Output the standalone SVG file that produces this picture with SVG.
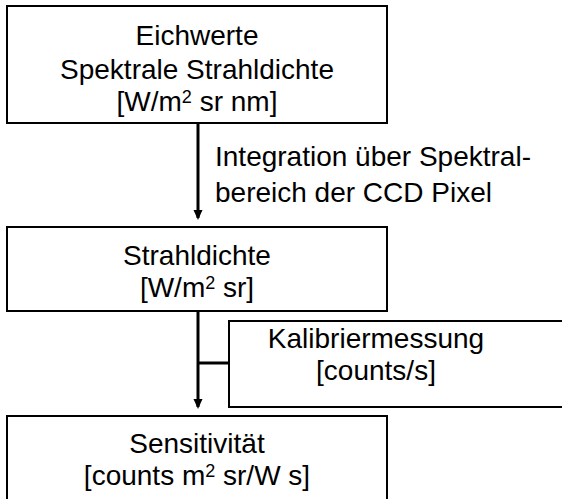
<svg xmlns="http://www.w3.org/2000/svg" width="562" height="499" viewBox="0 0 562 499">
  <style>
    .box { fill: #fff; stroke: #000; stroke-width: 2; }
    .lbl { font-family: "Liberation Sans", Arial, sans-serif; font-size: 28px; fill: #000; }
    .mid { text-anchor: middle; }
    .sup { font-size: 18px; }
    .wire { stroke: #000; stroke-width: 3; fill: none; }
  </style>
  <defs>
    <marker id="head" markerWidth="10" markerHeight="10" refX="8" refY="5" orient="auto" markerUnits="userSpaceOnUse">
      <path d="M0,0.5 L10,5 L0,9.5 Z" fill="#000"/>
    </marker>
  </defs>

  <g id="connectors">
    <line class="wire" x1="198" y1="123" x2="198" y2="218" marker-end="url(#head)"/>
    <line class="wire" x1="198" y1="311" x2="198" y2="407" marker-end="url(#head)"/>
    <line class="wire" x1="198" y1="363" x2="229" y2="363"/>
    <text class="lbl" x="215" y="166">Integration über Spektral-</text>
    <text class="lbl" x="215" y="202">bereich der CCD Pixel</text>
  </g>

  <g id="eichwerte">
    <rect class="box" x="7" y="6" width="380" height="117"/>
    <text class="lbl mid" x="197" y="45">Eichwerte</text>
    <text class="lbl mid" x="197" y="79">Spektrale Strahldichte</text>
    <text class="lbl mid" x="197" y="111">[W/m<tspan class="sup" dy="-8">2</tspan><tspan dy="8"> sr nm]</tspan></text>
  </g>

  <g id="strahldichte">
    <rect class="box" x="7" y="227" width="380" height="84"/>
    <text class="lbl mid" x="197" y="265">Strahldichte</text>
    <text class="lbl mid" x="197" y="297">[W/m<tspan class="sup" dy="-8">2</tspan><tspan dy="8"> sr]</tspan></text>
  </g>

  <g id="kalibriermessung">
    <rect class="box" x="229" y="321" width="360" height="86"/>
    <text class="lbl mid" x="376" y="348">Kalibriermessung</text>
    <text class="lbl mid" x="376" y="380">[counts/s]</text>
  </g>

  <g id="sensitivitaet">
    <rect class="box" x="7" y="416" width="380" height="100"/>
    <text class="lbl mid" x="197" y="453">Sensitivität</text>
    <text class="lbl mid" x="197" y="485">[counts m<tspan class="sup" dy="-8">2</tspan><tspan dy="8"> sr/W s]</tspan></text>
  </g>
</svg>
